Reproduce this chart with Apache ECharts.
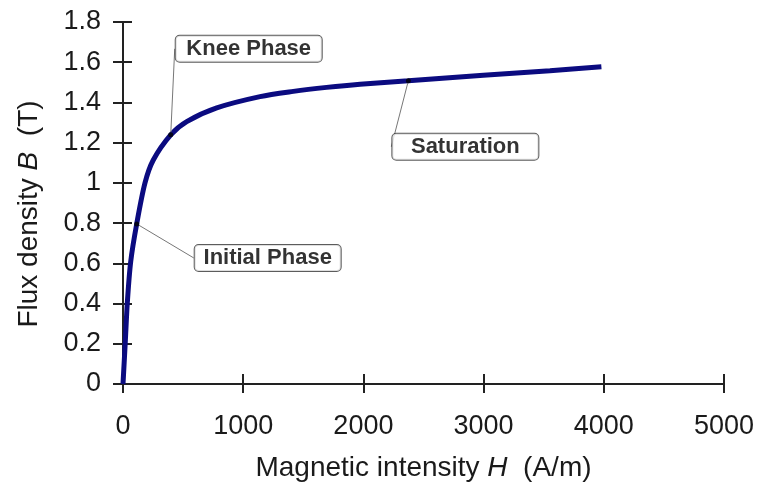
<!DOCTYPE html>
<html>
<head>
<meta charset="utf-8">
<script src="https://cdn.jsdelivr.net/npm/echarts@6/dist/echarts.min.js"></script>
<style>
  html, body { margin: 0; padding: 0; background: #fff; }
  #chart { width: 758px; height: 498px; }
</style>
</head>
<body>
<div id="chart"></div>
<script>
// B-H magnetisation curve
const fieldH = [0, 19, 36, 64, 114, 183, 252, 397, 530, 780, 1140, 1417, 1694, 1972, 2374, 2998, 3552, 3980]
const fluxB = [0, 0.21, 0.405, 0.608, 0.796, 1.0, 1.114, 1.239, 1.305, 1.373, 1.429, 1.455, 1.475, 1.491, 1.508, 1.535, 1.558, 1.578]

// callout points
const noteNames = ['Knee Phase', 'Initial Phase', 'Saturation']
const noteH = [397, 114, 2374]
const noteB = [1.239, 0.796, 1.508]
// label box offsets (px) from the point
const noteOffsets = [[78, -86], [131, 34], [57, 66]]

const chart = echarts.init(document.getElementById('chart'))

const textColor = '#1a1a1a'
const axisColor = '#222'
const font = 'Liberation Sans, Arial, sans-serif'

const baseX = {
  type: 'value',
  min: 0,
  max: 5000,
  interval: 1000,
  splitLine: { show: false }
}
const baseY = {
  type: 'value',
  min: 0,
  max: 1.8,
  interval: 0.2,
  splitLine: { show: false }
}

const nameRich = {
  a: { fontSize: 28, color: textColor, fontFamily: font },
  i: { fontSize: 28, color: textColor, fontStyle: 'italic', fontFamily: font }
}

const option = {
  animation: false,
  backgroundColor: '#fff',
  textStyle: { fontFamily: font },
  grid: { left: 123, right: 34, top: 22, bottom: 114 },
  xAxis: [
    {
      ...baseX,
      axisLine: { show: true, lineStyle: { color: axisColor, width: 2 } },
      axisTick: { show: true, length: 9, lineStyle: { color: axisColor, width: 2 } },
      axisLabel: { color: textColor, fontSize: 27, margin: 29, fontFamily: font, formatter: v => String(v) },
      name: '{a|Magnetic intensity }{i|H}{a|  (A/m)}',
      nameLocation: 'middle',
      nameGap: 70,
      nameTextStyle: { rich: nameRich }
    },
    {
      // inner half of the crossing ticks
      ...baseX,
      position: 'bottom',
      offset: 0,
      axisLine: { show: true, lineStyle: { color: axisColor, width: 2 } },
      axisTick: { show: true, inside: true, length: 10, lineStyle: { color: axisColor, width: 2 } },
      axisLabel: { show: false }
    }
  ],
  yAxis: [
    {
      ...baseY,
      axisLine: { show: true, lineStyle: { color: axisColor, width: 2 } },
      axisTick: { show: true, length: 10, lineStyle: { color: axisColor, width: 2 } },
      axisLabel: { color: textColor, fontSize: 27, margin: 22, fontFamily: font },
      name: '{a|Flux density }{i|B}{a|  (T)}',
      nameLocation: 'middle',
      nameGap: 80,
      nameTextStyle: { rich: nameRich, padding: [0, 22, 0, 0] }
    },
    {
      ...baseY,
      position: 'left',
      offset: 0,
      axisLine: { show: true, lineStyle: { color: axisColor, width: 2 } },
      axisTick: { show: true, inside: true, length: 9, lineStyle: { color: axisColor, width: 2 } },
      axisLabel: { show: false }
    }
  ],
  series: [
    {
      name: 'B-H',
      type: 'line',
      data: fieldH.map((h, i) => [h, fluxB[i]]),
      smooth: 0.3,
      showSymbol: false,
      symbol: 'none',
      lineStyle: { color: '#0b0b80', width: 5 },
      z: 2
    },
    {
      name: 'notes',
      type: 'scatter',
      data: noteNames.map((n, i) => [noteH[i], noteB[i], n]),
      symbol: 'circle',
      symbolSize: 5,
      itemStyle: { color: '#000' },
      z: 5,
      label: {
        show: true,
        position: 'inside',
        formatter: p => p.data[2],
        color: '#000',
        fontWeight: 'bold',
        fontSize: 22,
        fontFamily: font,
        width: 128,
        align: 'center',
        lineHeight: 22,
        backgroundColor: '#fff',
        borderColor: '#333',
        borderWidth: 1,
        borderRadius: 4,
        padding: [2, 9]
      },
      labelLayout: p => ({ dx: noteOffsets[p.dataIndex][0], dy: noteOffsets[p.dataIndex][1] }),
      labelLine: { show: true, lineStyle: { color: '#777', width: 1 } }
    }
  ]
}

chart.setOption(option)
</script>
</body>
</html>
